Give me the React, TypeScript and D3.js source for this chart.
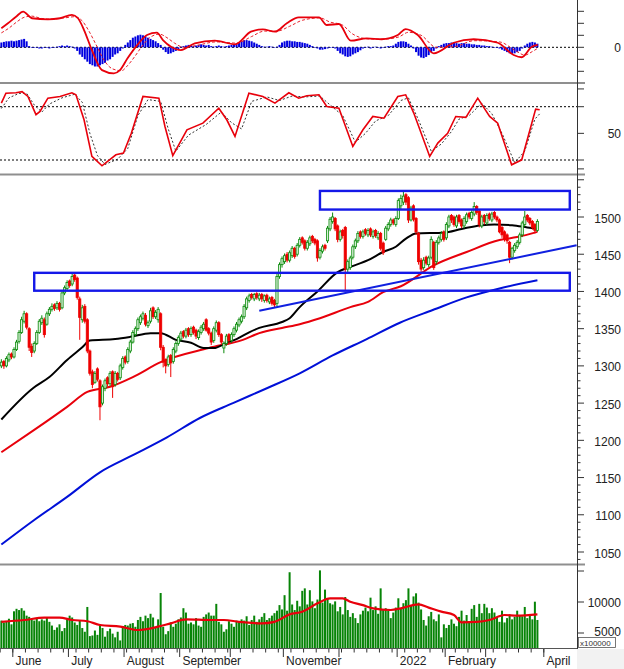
import React from 'react';
import * as d3 from 'd3';

// ---------- DATA ----------
const openP = [
  1300,1306,1300,1308,1316,1312,1322,1333,1345,1360,
  1370,1350,1326,1320,1330,1345,1358,1362,1356,1370,
  1376,1382,1378,1384,1378,1398,1404,1414,1410,1422,
  1418,1390,1362,1380,1362,1320,1292,1278,1296,1280,
  1250,1270,1284,1276,1292,1275,1290,1284,1298,1312,
  1306,1320,1332,1342,1350,1358,1364,1368,1354,1360,
  1378,1366,1362,1370,1325,1308,1302,1314,1306,1320,
  1330,1336,1346,1340,1350,1342,1352,1348,1338,1345,
  1350,1362,1350,1344,1334,1348,1358,1342,1324,1330,
  1342,1334,1342,1348,1355,1360,1366,1378,1388,1396,
  1390,1397,1390,1396,1388,1395,1386,1392,1388,1384,
  1420,1436,1440,1450,1442,1448,1458,1450,1462,1472,
  1468,1458,1464,1474,1470,1468,1446,1454,1462,1468,
  1484,1494,1498,1488,1470,1482,1486,1430,1432,1446,
  1460,1468,1480,1474,1483,1476,1484,1474,1482,1472,
  1478,1465,1470,1484,1490,1496,1490,1498,1515,1520,
  1530,1526,1496,1515,1498,1478,1442,1432,1446,1436,
  1446,1466,1440,1466,1470,1480,1472,1488,1502,1500,
  1488,1502,1496,1488,1494,1505,1498,1504,1514,1508,
  1488,1502,1492,1504,1496,1506,1500,1496,1486,1480,
  1476,1466,1446,1455,1460,1466,1476,1490,1502,1498,
  1494,1490,1482,
];
const highP = [
  1309,1308,1313,1318,1318,1325,1335,1348,1366,1374,
  1372,1352,1330,1333,1348,1363,1368,1365,1373,1379,
  1384,1384,1387,1386,1400,1408,1415,1416,1425,1424,
  1420,1393,1382,1383,1364,1322,1295,1293,1298,1282,
  1275,1283,1286,1293,1294,1293,1292,1303,1313,1314,
  1325,1335,1348,1353,1365,1369,1373,1371,1361,1378,
  1380,1375,1379,1372,1328,1310,1315,1316,1325,1333,
  1341,1347,1348,1351,1352,1353,1354,1350,1349,1355,
  1359,1364,1352,1346,1353,1361,1360,1344,1333,1343,
  1344,1345,1353,1359,1365,1369,1383,1393,1397,1398,
  1398,1399,1398,1398,1396,1397,1393,1394,1390,1424,
  1439,1447,1451,1453,1455,1461,1460,1465,1473,1474,
  1470,1469,1475,1476,1472,1470,1458,1463,1464,1488,
  1500,1506,1500,1490,1483,1484,1488,1443,1448,1463,
  1471,1481,1482,1483,1485,1485,1486,1483,1484,1481,
  1480,1467,1488,1493,1499,1498,1501,1525,1530,1536,
  1532,1528,1515,1517,1500,1480,1445,1446,1448,1448,
  1474,1468,1469,1475,1481,1482,1493,1503,1504,1502,
  1503,1504,1498,1501,1506,1507,1509,1520,1516,1510,
  1503,1504,1505,1506,1507,1508,1502,1498,1488,1482,
  1478,1468,1460,1465,1469,1479,1495,1508,1504,1500,
  1496,1492,1497,
];
const lowP = [
  1297,1296,1298,1305,1309,1310,1320,1330,1343,1357,
  1349,1320,1312,1317,1328,1343,1355,1338,1354,1367,
  1373,1374,1375,1373,1376,1395,1402,1405,1407,1413,
  1389,1335,1358,1357,1317,1287,1270,1276,1279,1227,
  1247,1266,1272,1273,1257,1272,1279,1281,1295,1302,
  1303,1317,1330,1339,1347,1355,1361,1353,1351,1357,
  1363,1363,1358,1321,1298,1290,1299,1285,1303,1317,
  1327,1333,1337,1337,1339,1339,1342,1336,1335,1342,
  1347,1346,1341,1328,1331,1345,1339,1328,1317,1327,
  1330,1331,1339,1345,1352,1357,1363,1375,1385,1389,
  1387,1389,1387,1386,1385,1385,1383,1381,1378,1380,
  1417,1432,1437,1439,1439,1445,1444,1447,1459,1463,
  1455,1455,1461,1465,1462,1440,1443,1451,1455,1465,
  1481,1491,1481,1466,1467,1471,1402,1426,1429,1443,
  1457,1465,1471,1471,1475,1473,1473,1471,1472,1469,
  1455,1449,1468,1481,1487,1489,1487,1496,1510,1516,
  1516,1492,1494,1494,1476,1436,1425,1429,1435,1433,
  1443,1429,1436,1463,1467,1467,1469,1485,1492,1487,
  1485,1491,1485,1485,1491,1497,1495,1501,1503,1486,
  1485,1490,1489,1495,1493,1497,1493,1478,1472,1467,
  1464,1438,1443,1452,1457,1463,1473,1487,1493,1489,
  1483,1478,1480,
];
const closeP = [
  1305,1300,1310,1315,1312,1322,1332,1345,1362,1370,
  1352,1325,1318,1330,1345,1360,1364,1342,1370,1376,
  1380,1377,1384,1376,1398,1405,1412,1408,1420,1416,
  1392,1365,1378,1360,1320,1290,1275,1290,1282,1245,
  1272,1280,1276,1290,1272,1290,1282,1300,1310,1305,
  1322,1332,1345,1350,1362,1366,1370,1356,1358,1374,
  1366,1372,1376,1325,1305,1300,1312,1304,1322,1330,
  1338,1344,1340,1348,1342,1350,1345,1340,1346,1352,
  1356,1348,1344,1332,1350,1358,1342,1332,1330,1340,
  1334,1342,1350,1356,1362,1366,1380,1390,1394,1392,
  1396,1392,1395,1390,1394,1388,1390,1384,1382,1420,
  1436,1444,1448,1442,1452,1458,1447,1462,1470,1466,
  1458,1466,1472,1468,1465,1445,1455,1460,1458,1485,
  1497,1500,1484,1470,1480,1475,1430,1440,1445,1460,
  1468,1478,1474,1480,1478,1482,1476,1480,1475,1478,
  1458,1452,1485,1490,1496,1492,1498,1522,1525,1528,
  1520,1496,1512,1497,1480,1440,1430,1442,1438,1445,
  1470,1432,1466,1472,1478,1470,1490,1500,1496,1490,
  1500,1494,1488,1498,1503,1500,1506,1514,1506,1490,
  1500,1494,1502,1498,1504,1500,1496,1480,1476,1470,
  1468,1446,1458,1462,1466,1476,1492,1500,1496,1492,
  1486,1482,1494,
];
const volume = [
  7000,6700,6900,7300,6400,8500,8900,8700,9000,8600,
  7800,7600,7200,7000,7300,6900,7200,7000,7500,6800,
  6200,5500,5900,6400,5300,5800,7200,7800,7500,6700,
  6300,7000,5800,5200,9200,4500,4600,5400,4700,6400,
  5800,4400,5300,5700,4900,4300,5200,3800,6100,6300,
  6200,6500,6600,6000,7100,7600,6900,7800,7400,8100,
  7500,6000,7200,11450,6000,4800,5300,6700,6000,6500,
  7200,7500,9000,8300,6500,6700,6400,7400,6200,6000,
  7600,8000,8300,7800,7800,9700,6800,6400,5200,5600,
  6900,6500,6000,7000,6900,7200,7000,7700,6300,7100,
  7800,6800,7200,7600,8200,7100,7400,7800,8200,8600,
  9500,8800,11100,8600,14800,9600,8700,10200,9300,11800,
  12200,9600,11900,10100,9000,10400,15100,9900,12000,10600,
  9800,9600,10100,8500,9200,8000,10800,8700,7600,8200,
  7400,6600,8000,8600,9100,8500,10700,8700,9300,8100,
  12200,8700,9000,8600,7400,8300,9100,10600,8900,9800,
  10300,12200,9400,10900,11400,9900,8800,7100,6200,7700,
  8400,7200,6900,8000,4300,6400,5800,6300,7200,6500,
  6100,7600,8600,7000,7900,6800,8900,9500,7600,9700,
  8200,9700,9100,8200,9000,8300,7600,6800,8600,6700,
  7400,8000,7200,7600,8600,7900,7700,9200,7400,7800,
  7200,10050,7100,
];
const macdHist = [
  4,4.5,5,5,5.5,5,5.5,6,6.5,7,5,
  1,0,-0.5,-0.5,-1,-1,-0.5,-0.5,-1,-0.5,0,0.5,
  1,1.5,1,1.5,1,0.5,-1,
  -3,-6,-8,-10,-12,-14,-15,-16,-16,-15,-14,-13,-11,-10,-8,-6,-5,-3,-1,
  2,4,6,8,9,10,10.5,10,9,8,7,6,5,3.5,2,
  -2,-4,-5.5,-5,-4,-3,-1.5,
  0.5,1,1.5,2,1.5,1,1.5,2,2.5,2,1.5,2,1,0.5,1,1.5,1,0.5,1,1.5,2,2.5,3,
  4,5,6,6,5.5,5,4,3,2,1,
  0.5,0.5,1,0.5,0,0.5,2,
  4,5,5.5,5.5,5,5,4.5,4.5,4,3.5,3,2,1,0,
  -1,-2,-2,-1.5,-1,-0.5,0,
  -1,-3,-5,-6,-7.5,-8,-7.5,-6,-5,-4,-2.5,-1,
  -0.5,0.5,-1,0,0.5,-0.5,-1,0,0.5,1,1,1.5,
  3,4.5,5,5,4.5,3,1.5,-1,
  -4,-7,-8.5,-9,-8,-6.5,-4,-3,-1,
  1,2,3,3.5,3.5,4,4,3.5,3,3.5,3.5,3,3,2.5,2.5,2,2,1.5,1.5,1,1,0.5,0,-0.5,-1,
  -2,-3,-4,-5,-5.5,-5,-4,-3,-1,
  1.5,3,4,4.5,4,3,
];

// moving averages: [candle index, value]
const ma50: [number, number][] = [
  [0,1228],[12.5,1270],[19,1285],[26,1308],[32,1325],[35,1334],[45,1336],[51,1339],[59,1344],[63,1344],
  [69,1335],[75,1331],[80,1324],[84,1324],[89,1331],[93,1336],[98,1345],[102,1351],[111,1359],[114,1364],
  [118,1379],[125,1400],[133,1426],[138,1433],[145,1442],[151,1453],[156,1460],[160,1471],[164,1478],
  [175,1479],[182,1484],[190,1489],[195,1490],[202,1489],[208,1486],[212,1484],
];
const ma100: [number, number][] = [
  [0,1184],[13,1214],[26,1245],[34,1265],[43,1272],[52,1285],[63,1305],[82,1324],[95.5,1335],[102,1344],
  [111,1351],[118,1356],[126,1364],[138,1379],[145,1386],[151,1399],[158,1407],[171,1435],[184,1453],
  [197,1469],[204,1473],[212,1480],
];
const ma200: [number, number][] = [
  [0,1060],[13,1093],[26,1124],[39,1157],[52,1180],[65.5,1204],[78.5,1230],[91.6,1250],[105,1270],
  [118,1290],[131,1314],[144.5,1336],[157.6,1358],[170.6,1375],[184,1392],[197,1404],[212,1415],
];
const volMa: [number, number][] = [
  [0,6800],[9,7100],[17,7470],[23,7470],[28,7100],[34,6900],[39,6290],[47,6020],[54,5480],[62,6020],
  [67,6560],[73,7200],[83,7100],[88,7100],[94,6800],[103,6560],[108,6800],[114,8010],[119,8440],
  [125,9780],[130,10590],[135,10590],[138,10050],[143,9500],[147,8980],[154,8710],[158,8980],
  [165,9620],[169,9090],[174,8440],[179,7900],[182,6720],[188,6800],[193,7100],[199,7900],[204,7800],[212,8000],
];
const macdLine: [number, number][] = [
  [0,15.8],[2.6,20],[5.8,25.5],[8.6,29.7],[12.1,24.2],[18.4,23.3],[23.2,24.2],[27.9,27],[30.3,24.2],
  [32.7,14.4],[35.8,-2.3],[39.8,-19],[44.5,-21.7],[46.9,-19],[49.9,-9.2],[53.8,2],[57.6,10.2],[61.5,12.2],
  [63.9,6],[67.1,0.5],[71,-2.3],[76.5,3.3],[84.4,5.5],[92.4,2.5],[98.7,13],[103.4,15],[108.2,13],
  [112.9,20],[117.6,25],[125.6,25],[128.7,18.6],[133.5,19.4],[138.2,5.5],[144.5,7.5],[150.4,6.7],
  [156.8,10.2],[159.9,15.2],[164.7,10.2],[171,-5],[178.9,3.8],[186.8,6.7],[196.3,3.8],[202.6,-6.4],
  [205.8,-8.3],[209.8,0.5],[212.1,2],
];
const macdSignal: [number, number][] = [
  [0,12],[3,16],[6,21],[9,25],[12,26],[16,24],[20,23.5],[25,24.5],[29,25.5],[32,22],[34.5,14],[37.5,2],
  [41,-12],[44,-18],[47.5,-19.5],[50,-15],[53,-7],[56,2],[59,8.5],[62.5,11],[65.5,8],[68.5,3.5],[72,0],
  [77,1.5],[85,4.5],[93,3.5],[99,9],[104,13.5],[109,13.5],[114,17.5],[119,22.5],[126,24.5],[130,21],
  [134.5,19],[139,11],[145,7],[151,6.8],[157,8.5],[161,12.5],[166,10],[172,0],[179,0.5],[187,5.5],
  [197,4.5],[203.5,-3],[207,-6.5],[210,-3.5],[212,-1],
];
const stochK: [number, number][] = [
  [0,84],[1.8,95.2],[5.8,95.7],[8.2,97],[10.5,91.5],[13.7,71],[15.3,74.6],[18.4,89.6],[23.2,91.5],
  [27.9,95.7],[29.5,93.4],[32.7,65.3],[35.8,24],[39.8,13.5],[45.3,25.9],[48.3,27.8],[51.4,50],[56,91.5],
  [62.3,89.6],[64.7,57.7],[67.8,24.8],[73.4,54],[79.7,61.5],[86,78.3],[89.2,65],[92.4,46.5],[97.9,95.2],
  [103.4,91.5],[108.2,84],[113.7,95.7],[117.6,89.6],[120.8,92.3],[125.6,93.4],[128.7,80.3],[133.5,78.4],
  [139,35.2],[143,54],[146.9,69],[151.3,67],[156.8,91.5],[159.9,93.4],[163.1,72.8],[169.4,24],[172.6,39],
  [176.5,50],[179.7,69],[183.7,68],[188.4,89.6],[193.1,69],[196.3,61.5],[201.8,14.6],[205.8,20.2],
  [211.3,77.3],[212.9,76.5],
];
const stochD: [number, number][] = [
  [0,78],[3,90],[7,95],[10,95],[13,82],[16,74],[19,83],[24,90],[29,94],[32,85],[35,50],[38,25],[41,15],
  [46,21],[50,33],[54,70],[58,88],[63,86],[66,55],[69,30],[74,48],[81,60],[87,74],[91,62],[95,55],[99,86],
  [105,91],[110,87],[115,92],[120,91],[126,92],[130,82],[135,70],[140,40],[144,50],[148,64],[153,70],
  [158,87],[161,90],[165,65],[170,30],[174,38],[178,52],[181,66],[185,70],[190,84],[194,72],[198,50],
  [203,17],[207,30],[211,66],[212.9,72],
];
const trendLine: [number, number][] = [[102, 1374], [227.5, 1462]];
const zones = [
  { from: 13, to: 224.8, lo: 1401, hi: 1425 },
  { from: 126, to: 224.8, lo: 1510, hi: 1535 },
];
const monthTicks = [
  { label: 'June', idx: 5 }, { label: 'July', idx: 27 }, { label: 'August', idx: 49 },
  { label: 'September', idx: 71 }, { label: '', idx: 91 }, { label: 'November', idx: 112 },
  { label: '', idx: 134 }, { label: '2022', idx: 157 }, { label: 'February', idx: 176 },
  { label: '', idx: 192 }, { label: 'April', idx: 215 },
];
const priceTicks = [1050, 1100, 1150, 1200, 1250, 1300, 1350, 1400, 1450, 1500];
const macdTicks = [-20, -10, 0, 10, 20, 30];
const stochTicks = [100, 80, 50, 20, 10];
const volTicks = [5000, 10000, 15000];

const FONT = 'Liberation Sans, Arial, sans-serif';
const AX = 577;

export default function App() {
  const x = d3.scaleLinear().domain([5, 215]).range([14, 545]);
  const yP = d3.scaleLinear().domain([1050, 1500]).range([552, 217]);
  const yM = d3.scaleLinear().domain([-10, 10]).range([59.3, 35.3]);
  const yS = d3.scaleLinear().domain([20, 80]).range([160, 106.7]);
  const yV = d3.scaleLinear().domain([5000, 10000]).range([633, 602]);

  const mk = (ys: d3.ScaleLinear<number, number>, curve = d3.curveMonotoneX) =>
    d3.line<[number, number]>().x(d => x(d[0])).y(d => ys(d[1])).curve(curve);

  const n = Math.min(openP.length, highP.length, lowP.length, closeP.length);
  const minorPrice = d3.range(1040, 1551, 10);
  const volBottom = 648;

  return (
    <svg width={624} height={669} style={{ position: 'absolute', left: 0, top: 0, background: '#fff' }}
      fontFamily={FONT}>
      <defs>
        <clipPath id="cM"><rect x={0} y={0} width={AX} height={82} /></clipPath>
        <clipPath id="cS"><rect x={0} y={85} width={AX} height={88} /></clipPath>
        <clipPath id="cP"><rect x={0} y={176} width={AX} height={387} /></clipPath>
        <clipPath id="cV"><rect x={0} y={566} width={AX} height={82} /></clipPath>
      </defs>
      <rect x={0} y={0} width={624} height={669} fill="#fff" />

      {/* MACD panel */}
      <g clipPath="url(#cM)">
        <line x1={0} x2={AX} y1={yM(0)} y2={yM(0)} stroke="#000" strokeDasharray="2,2" strokeWidth={1} />
        {macdHist.slice(0, n).map((h, i) => (
          <rect key={i} x={x(i) - 1} width={2} y={Math.min(yM(0), yM(h))}
            height={Math.max(0.6, Math.abs(yM(h) - yM(0)))} fill="#0000e0" />
        ))}
        <path d={mk(yM)(macdSignal) || ''} fill="none" stroke="#e8202a" strokeWidth={1} strokeDasharray="3,2" />
        <path d={mk(yM)(macdLine) || ''} fill="none" stroke="#e8000b" strokeWidth={1.8} />
      </g>

      {/* Stochastic panel */}
      <g clipPath="url(#cS)">
        <line x1={0} x2={AX} y1={yS(80)} y2={yS(80)} stroke="#000" strokeDasharray="2,2" />
        <line x1={0} x2={AX} y1={yS(20)} y2={yS(20)} stroke="#000" strokeDasharray="2,2" />
        <path d={mk(yS, d3.curveLinear)(stochD) || ''} fill="none" stroke="#000" strokeWidth={0.8} strokeDasharray="2,2" />
        <path d={mk(yS, d3.curveLinear)(stochK) || ''} fill="none" stroke="#e8000b" strokeWidth={1.6} />
      </g>

      {/* Price panel */}
      <g clipPath="url(#cP)">
        <path d={mk(yP)(ma200) || ''} fill="none" stroke="#0010d8" strokeWidth={2} />
        <path d={mk(yP)(ma100) || ''} fill="none" stroke="#e8000b" strokeWidth={2} />
        <path d={mk(yP)(ma50) || ''} fill="none" stroke="#000" strokeWidth={2} />
        {d3.range(n).map(i => {
          const o = openP[i], c = closeP[i], h = highP[i], l = lowP[i];
          const up = c >= o;
          const cx = x(i);
          const top = yP(Math.max(o, c));
          const bh = Math.max(1, yP(Math.min(o, c)) - top);
          const col = up ? '#0a8a0a' : '#ee0000';
          return (
            <g key={i}>
              <line x1={cx} x2={cx} y1={yP(h)} y2={yP(l)} stroke={col} strokeWidth={1} />
              <rect x={cx - 1.1} y={top} width={2.2} height={bh}
                fill={up ? '#d8f0d8' : '#ee0000'} stroke={col} strokeWidth={0.8} />
            </g>
          );
        })}
        <path d={mk(yP, d3.curveLinear)(trendLine) || ''} fill="none" stroke="#1020e0" strokeWidth={2} />
        {zones.map((z, k) => (
          <rect key={k} x={x(z.from)} y={yP(z.hi)} width={x(z.to) - x(z.from)} height={yP(z.lo) - yP(z.hi)}
            fill="none" stroke="#1418e8" strokeWidth={2.4} />
        ))}
      </g>

      {/* Volume panel */}
      <g clipPath="url(#cV)">
        {volume.slice(0, n).map((v, i) => (
          <rect key={i} x={x(i) - 1} width={2} y={yV(v)} height={volBottom - yV(v)} fill="#078407" />
        ))}
        <path d={mk(yV)(volMa) || ''} fill="none" stroke="#e8000b" strokeWidth={2.2} />
      </g>

      {/* panel separators */}
      {[83, 174.5, 564.5].map(y => (
        <line key={y} x1={0} x2={AX + 8} y1={y} y2={y} stroke="#8f8f8f" strokeWidth={2} />
      ))}
      <line x1={0} x2={AX} y1={648.5} y2={648.5} stroke="#555" strokeWidth={1} />
      <rect x={AX} y={649} width={47} height={20} fill="#f2f2f2" />

      {/* right axis */}
      <line x1={AX + 0.5} x2={AX + 0.5} y1={0} y2={649} stroke="#333" strokeWidth={1} />
      {macdTicks.map(t => (
        <line key={'m' + t} x1={AX} x2={AX + 7} y1={yM(t)} y2={yM(t)} stroke="#333" />
      ))}
      <text x={621} y={yM(0) + 4.5} textAnchor="end" fontSize={12} fill="#222">0</text>
      {stochTicks.map(t => (
        <line key={'s' + t} x1={AX} x2={AX + 7} y1={yS(t)} y2={yS(t)} stroke="#333" />
      ))}
      <text x={621} y={yS(50) + 4.5} textAnchor="end" fontSize={12} fill="#222">50</text>
      {minorPrice.map(t => (
        <line key={'pm' + t} x1={AX} x2={AX + (t % 50 === 0 ? 7 : 3.5)} y1={yP(t)} y2={yP(t)} stroke="#333" />
      ))}
      {priceTicks.map(t => (
        <text key={'pt' + t} x={621} y={yP(t) + 5.5} textAnchor="end" fontSize={12} fill="#222">{t}</text>
      ))}
      {volTicks.map(t => (
        <line key={'v' + t} x1={AX} x2={AX + 7} y1={yV(t)} y2={yV(t)} stroke="#333" />
      ))}
      <text x={621} y={yV(10000) + 4.5} textAnchor="end" fontSize={12} fill="#222">10000</text>
      <text x={621} y={yV(5000) + 2.5} textAnchor="end" fontSize={12} fill="#222">5000</text>
      <rect x={578.5} y={637.5} width={37} height={10} fill="#fff" stroke="#555" strokeWidth={0.8} />
      <text x={580} y={646} fontSize={8} fill="#333">x100000</text>

      {/* bottom axis */}
      {d3.range(0, 216, 5).map(i => (
        <line key={'w' + i} x1={x(i) - 1.2} x2={x(i) - 1.2} y1={649} y2={652.5} stroke="#333" />
      ))}
      {monthTicks.map(m => (
        <g key={'mt' + m.idx}>
          <line x1={x(m.idx) - 1.2} x2={x(m.idx) - 1.2} y1={649} y2={657} stroke="#333" />
          {m.label && (
            <text x={x(m.idx) + 1.5} y={665} fontSize={12} fill="#222">{m.label}</text>
          )}
        </g>
      ))}
    </svg>
  );
}
